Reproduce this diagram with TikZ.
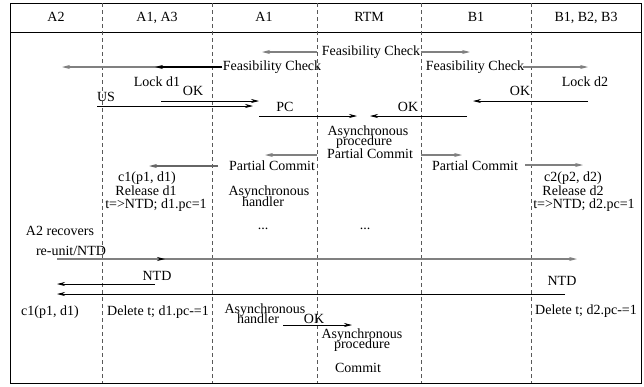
\documentclass[tikz,border=0pt]{standalone}
\usepackage{fontspec}
\setmainfont{Liberation Serif}
\usetikzlibrary{arrows.meta}
\newcommand\mytightfont{\fontsize{14}{10.5}\selectfont\lineskiplimit=-20pt\relax}
\begin{document}
\begin{tikzpicture}[x=1pt,y=-1pt,
  every node/.style={inner sep=0pt,font=\mytightfont,align=center},
  lbl/.style={text height=9.5pt,text depth=3pt},
  lane/.style={draw=black!65,line width=0.8pt,dash pattern=on 4pt off 3pt},
  garr/.style={draw=black!50,line width=1.2pt,-{Stealth[length=8pt,width=4pt,inset=2.5pt]}},
  karr/.style={draw=black,line width=0.7pt,-{Stealth[length=8pt,width=4pt,inset=2.5pt]}}]
\useasboundingbox (0,0) rectangle (644,386);
\draw[line width=0.8pt] (10,3) rectangle (641,383);
\draw[line width=0.8pt] (10,32) -- (641,32);
% lanes
\foreach \x/\n in {102/l1,212/l2,317/l3,421/l4,531/l5}{
  \coordinate (\n t) at (\x,3); \coordinate (\n b) at (\x,383);
  \draw[lane] (\n t) -- (\n b);}
% header
\node[lbl] (hA2) at (56,18) {A2};
\node[lbl] (hA13) at (157,18) {A1, A3};
\node[lbl] (hA1) at (264,18) {A1};
\node[lbl] (hRTM) at (369,18) {RTM};
\node[lbl] (hB1) at (476,18) {B1};
\node[lbl] (hB123) at (586,18) {B1, B2, B3};
% row 1
\node[lbl] (fc1) at (371,52) {Feasibility Check};
\coordinate (a1s) at (317,52); \coordinate (a1e) at (262,52);
\coordinate (a2s) at (421,52); \coordinate (a2e) at (470,52);
\draw[garr] (a1s) -- (a1e);
\draw[garr] (a2s) -- (a2e);
% row 2
\node[lbl] (fc2) at (272,67) {Feasibility Check};
\node[lbl] (fc3) at (475,67) {Feasibility Check};
\coordinate (a3s) at (222,67); \coordinate (a3e) at (62,67); \coordinate (a3m) at (155,67);
\coordinate (a4s) at (523,67); \coordinate (a4e) at (588,67);
\draw[garr] (a3s) -- (a3e);
\draw[karr,line width=1.2pt] (a3s) -- (a3m);
\draw[garr] (a4s) -- (a4e);
\node[lbl] (lk1) at (157,83) {Lock d1};
\node[lbl] (lk2) at (585,83) {Lock d2};
% OK / US / PC
\node[lbl] (ok1) at (193,92) {OK};
\coordinate (a5s) at (161,101); \coordinate (a5e) at (259,101);
\draw[karr] (a5s) -- (a5e);
\node[lbl] (us) at (106,98) {US};
\coordinate (a6s) at (97,106); \coordinate (a6e) at (253,106);
\draw[karr] (a6s) -- (a6e);
\node[lbl] (pc) at (285,108) {PC};
\coordinate (a7s) at (259,116); \coordinate (a7e) at (357,116);
\draw[karr] (a7s) -- (a7e);
\node[lbl] (ok2) at (408,108) {OK};
\coordinate (a8s) at (467,116); \coordinate (a8e) at (370,116);
\draw[karr] (a8s) -- (a8e);
\node[lbl] (ok3) at (520,92) {OK};
\coordinate (a9s) at (588,101); \coordinate (a9e) at (473,101);
\draw[karr] (a9s) -- (a9e);
\node (ap1) at (368,137) {Asynchronous\\procedure\hspace*{8pt}};
% partial commit
\node[lbl] (pc1) at (370,155) {Partial Commit};
\coordinate (b1s) at (317,155); \coordinate (b1e) at (265,155);
\coordinate (b2s) at (421,155); \coordinate (b2e) at (462,155);
\draw[garr] (b1s) -- (b1e);
\draw[garr] (b2s) -- (b2e);
\node[lbl] (pc2) at (272,167) {Partial Commit};
\coordinate (b3s) at (218,166); \coordinate (b3e) at (149,166);
\draw[garr,draw=black!60] (b3s) -- (b3e);
\node[lbl] (pc3) at (475,167) {Partial Commit};
\coordinate (b4s) at (525,165); \coordinate (b4e) at (583,165);
\draw[garr] (b4s) -- (b4e);
\node[lbl] (c1a) at (147,178.5) {c1(p1, d1)};
\node[lbl] (rd1) at (146,192) {Release d1};
\node[lbl] (nt1) at (156,205) {t=>NTD; d1.pc=1};
\node (ah1) at (269,196) {Asynchronous\\handler\hspace*{12pt}};
\node[lbl] (dots1) at (263,226) {...};
\node[lbl] (dots2) at (365,226) {...};
\node[lbl] (c2a) at (573,178.5) {c2(p2, d2)};
\node[lbl] (rd2) at (573,192) {Release d2};
\node[lbl] (nt2) at (584,205) {t=>NTD; d2.pc=1};
\node[lbl] (rec) at (60,232) {A2 recovers};
% recovery
\node[lbl] (ru) at (71,252) {re-unit/NTD};
\coordinate (c1s) at (57,259); \coordinate (c1e) at (577,259); \coordinate (c1m) at (165,259);
\draw[garr] (c1s) -- (c1e);
\draw[garr,-{Stealth[length=8pt,width=4pt,inset=2.5pt,color=black]}] (c1s) -- (c1m);
\node[lbl] (ntd1) at (157,277) {NTD};
\coordinate (c2s) at (155,284); \coordinate (c2e) at (57,284);
\draw[karr] (c2s) -- (c2e);
\node[lbl] (ntd2) at (562,282) {NTD};
\coordinate (c3s) at (565,294); \coordinate (c3e) at (57,294);
\draw[karr] (c3s) -- (c3e);
\node[lbl] (c1b) at (50,312) {c1(p1, d1)};
\node[lbl] (del1) at (158,312) {Delete t; d1.pc-=1};
\node (ah2) at (265,313.5) {Asynchronous\\handler\hspace*{14pt}};
\node[lbl] (ok4) at (314,320) {OK};
\coordinate (c4s) at (283,325); \coordinate (c4e) at (352,325);
\draw[karr] (c4s) -- (c4e);
\node (ap2) at (362,340) {Asynchronous\\procedure};
\node[lbl] (cm) at (358,369.5) {Commit};
\node[lbl] (del2) at (586,311) {Delete t; d2.pc-=1};
\end{tikzpicture}
\end{document}
